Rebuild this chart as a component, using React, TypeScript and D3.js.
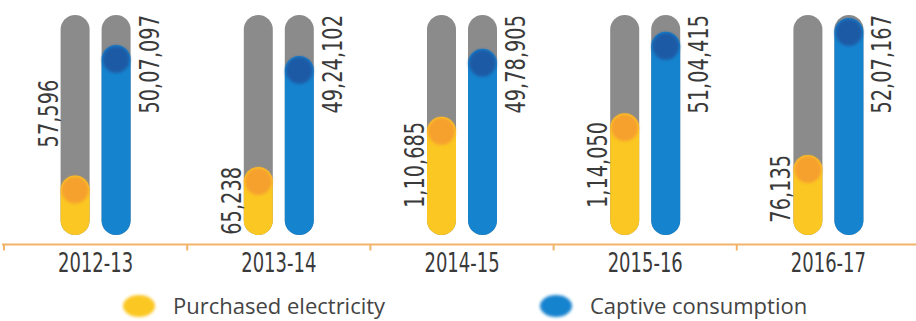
import * as d3 from 'd3'
import React from 'react'

const years = ['2012-13', '2013-14', '2014-15', '2015-16', '2016-17']
const purchased = [57596, 65238, 110685, 114050, 76135]
const purchasedLabels = ['57,596', '65,238', '1,10,685', '1,14,050', '76,135']
const captive = [5007097, 4924102, 4978905, 5104415, 5207167]
const captiveLabels = ['50,07,097', '49,24,102', '49,78,905', '51,04,415', '52,07,167']
const legendItems = ['Purchased electricity', 'Captive consumption']

const W = 916
const H = 321
const top = 15
const bottom = 235
const axisY = 244.5
const barW = 29
const gray = '#8b8b8b'
const yellow = '#fbc722'
const orange = '#f6a02e'
const blue = '#1683cf'
const darkBlue = '#1f5aa5'
const textColor = '#3a3a3a'
const valueFont = '"DejaVu Sans", sans-serif'

// width of a label in the narrow face of the original, at 27px
const labelLen = (s: string) => s.split('').reduce((a, c) => a + (c === ',' ? 6.2 : c === '-' ? 7 : 12.3), 0)
// DejaVu Sans advance widths (em)
const dejavuLen = (s: string, size: number) =>
  s.split('').reduce((a, c) => a + (c === ',' ? 0.318 : c === '-' ? 0.361 : 0.636), 0) * size
// squeeze DejaVu horizontally so it looks like the condensed face
const squeeze = (s: string, size: number, target: number) => target / dejavuLen(s, size)

export default function App() {
  const x = d3.scaleBand().domain(years).range([4, 920])
  // the infographic doesn't start at zero; domains fitted to the drawn heights
  const yP = d3.scaleLinear().domain([3600, 203000]).range([bottom, top])
  const yC = d3.scaleLinear().domain([3590000, 5230000]).range([bottom, top])
  const r = barW / 2
  const ticks = d3.range(years.length).map(i => 4 + i * x.step())

  const pill = (key: string, bx: number, yTop: number, fill: string, cap: string) => (
    <g key={key}>
      <rect x={bx} y={yTop} width={barW} height={bottom - yTop} rx={r} fill={fill} />
      <circle cx={bx + r} cy={yTop + r} r={r - 1} fill={cap} filter="url(#soft)" />
    </g>
  )

  return (
    <svg width={W} height={H} style={{ position: 'absolute', left: 0, top: 0, background: '#fff' }}>
      <defs>
        <filter id="soft" x="-30%" y="-30%" width="160%" height="160%">
          <feGaussianBlur stdDeviation="1.6" />
        </filter>
      </defs>

      {years.map((yr, i) => {
        const c = (x(yr) ?? 0) + x.bandwidth() / 2
        const gx = c - 35
        const bx = c + 6
        const pTop = yP(purchased[i])
        const cTop = yC(captive[i])
        const pLab = purchasedLabels[i]
        const cLab = captiveLabels[i]
        const len = labelLen(pLab)
        const fits = pTop + len <= bottom + 2
        const startY = fits ? Math.max(bottom - 27, pTop + len) : pTop - 28
        return (
          <g key={yr}>
            <rect x={gx} y={top} width={barW} height={bottom - top} rx={r} fill={gray} />
            <rect x={bx} y={top} width={barW} height={bottom - top} rx={r} fill={gray} />
            {pill('p', gx, pTop, yellow, orange)}
            {pill('c', bx, cTop, blue, darkBlue)}
            <text
              transform={`translate(${gx - 3},${startY}) rotate(-90) scale(${squeeze(pLab, 27, len)},1)`}
              fontFamily={valueFont}
              fontSize={27}
              fill={textColor}
            >
              {pLab}
            </text>
            <text
              transform={`translate(${bx + barW + 28},${top}) rotate(-90) scale(${squeeze(cLab, 27, labelLen(cLab))},1)`}
              textAnchor="end"
              fontFamily={valueFont}
              fontSize={27}
              fill={textColor}
            >
              {cLab}
            </text>
            <text
              transform={`translate(${c},272) scale(${squeeze(yr, 26, labelLen(yr) * 0.93)},1)`}
              textAnchor="middle"
              fontFamily={valueFont}
              fontSize={26}
              fill={textColor}
            >
              {yr}
            </text>
          </g>
        )
      })}

      <line x1={2} x2={W} y1={axisY} y2={axisY} stroke="#f2b46b" strokeWidth={2} />
      {ticks.map(t => (
        <line key={t} x1={t} x2={t} y1={axisY} y2={axisY + 6} stroke="#f2b46b" strokeWidth={2} />
      ))}

      {legendItems.map((name, i) => {
        const lx = i === 0 ? 139 : 556
        return (
          <g key={name}>
            <ellipse cx={lx} cy={306} rx={16} ry={11} fill={i === 0 ? yellow : blue} filter="url(#soft)" />
            <text x={lx + 34} y={314} fontFamily='"Open Sans", sans-serif' fontSize={22} fill="#444">
              {name}
            </text>
          </g>
        )
      })}
    </svg>
  )
}
